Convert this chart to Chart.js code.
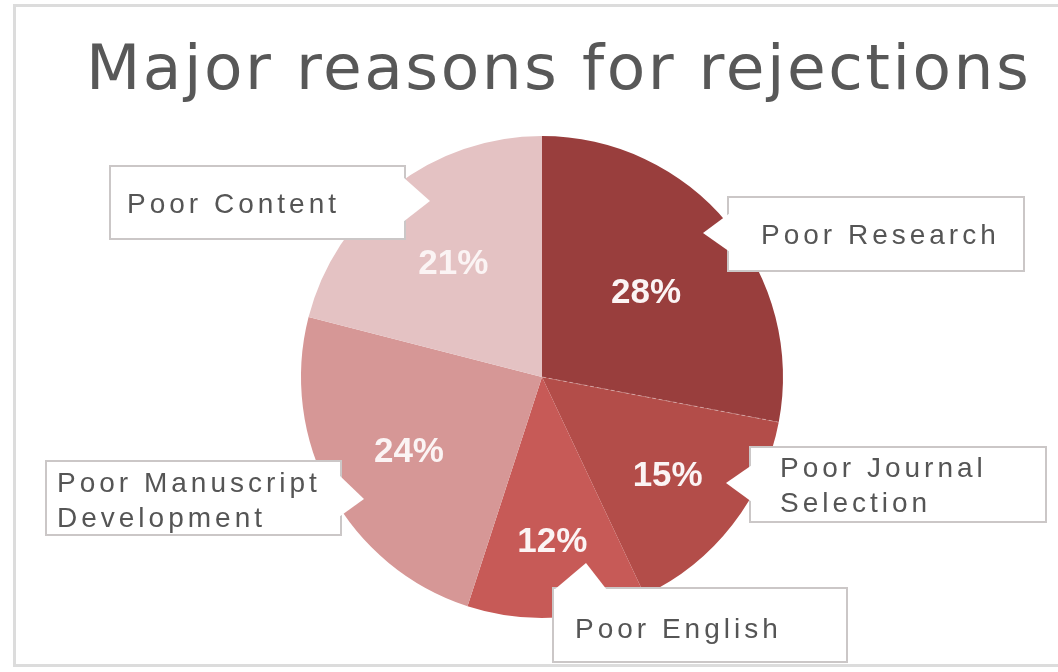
<!DOCTYPE html>
<html>
<head>
<meta charset="utf-8">
<title>Major reasons for rejections</title>
<script src="https://cdn.jsdelivr.net/npm/chart.js@4.4.0/dist/chart.umd.min.js"></script>
<style>
  html, body { margin: 0; padding: 0; background: #fff; }
  #wrap { width: 1058px; height: 672px; }
</style>
</head>
<body>
<div id="wrap"><canvas id="rejectionChart" width="1058" height="672"></canvas></div>
<script>
const chartTitle = 'Major reasons for rejections';
const reasons = ['Poor Research', 'Poor Journal Selection', 'Poor English', 'Poor Manuscript Development', 'Poor Content'];
const shares = [28, 15, 12, 24, 21];
const sliceColors = ['#993e3d', '#b34d49', '#c75a57', '#d69796', '#e4c2c3'];

// how far out the percentage sits in each slice (share of the radius)
const labelRadius = [0.56, 0.66, 0.68, 0.63, 0.60];

// callout boxes, one per reason: box, text start, and the pointer triangle
const callouts = [
  { x: 728, y: 197, w: 296, h: 74, textX: 761, textY: 244, pointer: [[730, 213], [703, 233], [730, 252]] },
  { x: 750, y: 447, w: 296, h: 75, textX: 780, textY: 477, pointer: [[752, 465], [726, 483], [752, 502]] },
  { x: 553, y: 588, w: 294, h: 74, textX: 575, textY: 638, pointer: [[554, 590], [586, 563], [607, 590]] },
  { x: 46, y: 461, w: 295, h: 74, textX: 57, textY: 492, pointer: [[339, 475], [364, 499], [339, 517]] },
  { x: 110, y: 166, w: 295, h: 73, textX: 127, textY: 213, pointer: [[403, 177], [430, 201], [403, 222]] }
];

// long reasons go on two lines, after the second word
function splitReason(text) {
  const words = text.split(' ');
  if (words.length <= 2) return [text];
  return [words.slice(0, 2).join(' '), words.slice(2).join(' ')];
}

const framePlugin = {
  id: 'frame',
  beforeDraw(chart) {
    const ctx = chart.ctx;
    ctx.save();
    ctx.fillStyle = '#fff';
    ctx.fillRect(0, 0, chart.width, chart.height);
    ctx.strokeStyle = '#dcdcdc';
    ctx.lineWidth = 3;
    ctx.strokeRect(14.5, 5.5, chart.width + 10, 660);

    ctx.fillStyle = '#585858';
    ctx.font = '63px "DejaVu Sans"';
    ctx.letterSpacing = '2.5px';
    ctx.textAlign = 'left';
    ctx.textBaseline = 'alphabetic';
    ctx.fillText(chartTitle, 86, 89);
    ctx.restore();
  }
};

const labelsPlugin = {
  id: 'sliceLabels',
  afterDatasetsDraw(chart) {
    const ctx = chart.ctx;
    const arcs = chart.getDatasetMeta(0).data;
    const values = chart.data.datasets[0].data;

    ctx.save();
    // thin dashed seam between the first two slices
    const first = arcs[0].getProps(['x', 'y', 'endAngle', 'outerRadius'], true);
    ctx.strokeStyle = 'rgba(255,255,255,0.35)';
    ctx.lineWidth = 1;
    ctx.setLineDash([4, 3]);
    ctx.beginPath();
    ctx.moveTo(first.x, first.y);
    ctx.lineTo(first.x + Math.cos(first.endAngle) * first.outerRadius, first.y + Math.sin(first.endAngle) * first.outerRadius);
    ctx.stroke();
    ctx.setLineDash([]);

    // percentages inside the slices
    ctx.fillStyle = '#fbf4f4';
    ctx.font = 'bold 35px "Liberation Sans"';
    ctx.textAlign = 'center';
    ctx.textBaseline = 'middle';
    arcs.forEach((arc, i) => {
      const { x, y, startAngle, endAngle, outerRadius } = arc.getProps(['x', 'y', 'startAngle', 'endAngle', 'outerRadius'], true);
      const mid = (startAngle + endAngle) / 2;
      const r = outerRadius * labelRadius[i];
      ctx.fillText(values[i] + '%', x + Math.cos(mid) * r, y + Math.sin(mid) * r + 2);
    });

    // callout boxes with the reason names
    chart.data.labels.forEach((reason, i) => {
      const c = callouts[i];
      ctx.fillStyle = '#fff';
      ctx.fillRect(c.x, c.y, c.w, c.h);
      ctx.strokeStyle = '#cbc7c7';
      ctx.lineWidth = 2;
      ctx.strokeRect(c.x, c.y, c.w, c.h);

      ctx.beginPath();
      ctx.moveTo(c.pointer[0][0], c.pointer[0][1]);
      ctx.lineTo(c.pointer[1][0], c.pointer[1][1]);
      ctx.lineTo(c.pointer[2][0], c.pointer[2][1]);
      ctx.closePath();
      ctx.fillStyle = '#fff';
      ctx.fill();

      ctx.fillStyle = '#555';
      ctx.font = '28px "Liberation Sans"';
      ctx.letterSpacing = '4px';
      ctx.textAlign = 'left';
      ctx.textBaseline = 'alphabetic';
      splitReason(reason).forEach((line, j) => {
        ctx.fillText(line, c.textX, c.textY + j * 35);
      });
      ctx.letterSpacing = '0px';
    });
    ctx.restore();
  }
};

new Chart(document.getElementById('rejectionChart'), {
  type: 'pie',
  data: {
    labels: reasons,
    datasets: [{
      data: shares,
      backgroundColor: sliceColors,
      borderWidth: 0
    }]
  },
  options: {
    responsive: false,
    animation: false,
    layout: {
      padding: { top: 136, bottom: 54, left: 301, right: 275 }
    },
    plugins: {
      legend: { display: false },
      tooltip: { enabled: false },
      title: { display: false }
    }
  },
  plugins: [framePlugin, labelsPlugin]
});
</script>
</body>
</html>
